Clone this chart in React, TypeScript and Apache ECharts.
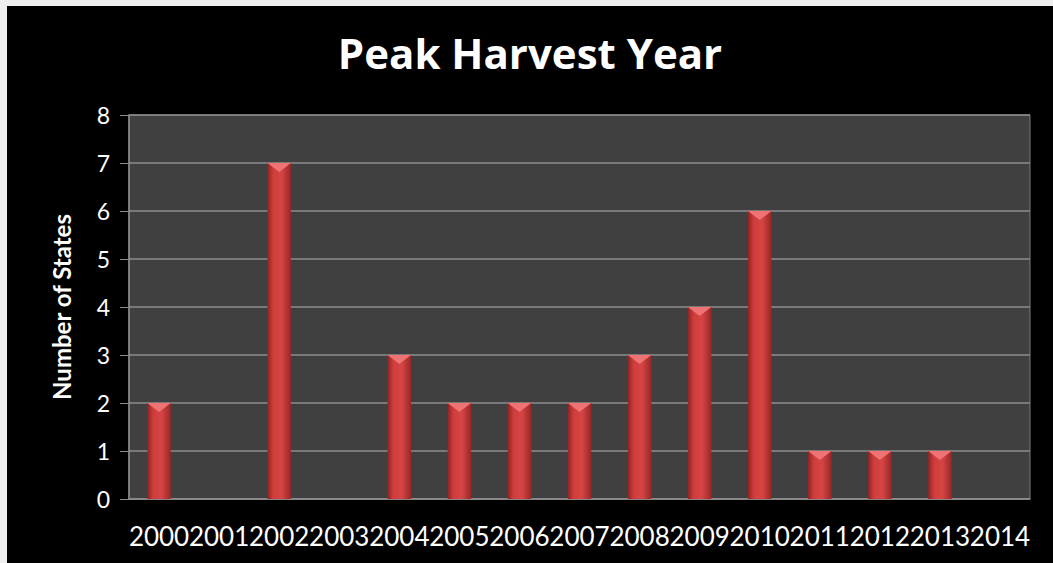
import React, { useEffect, useRef } from "react";
import * as echarts from "echarts";

const years = ["2000", "2001", "2002", "2003", "2004", "2005", "2006", "2007", "2008", "2009", "2010", "2011", "2012", "2013", "2014"];
const states = [2, 0, 7, 0, 3, 2, 2, 2, 3, 4, 6, 1, 1, 1, 0];
const yTicks = [0, 1, 2, 3, 4, 5, 6, 7, 8];

export default function App() {
  const ref = useRef<HTMLDivElement>(null);
  useEffect(() => {
    if (!ref.current) return;
    const chart = echarts.init(ref.current, null, { renderer: "svg" });
    const font = "Lato, 'Open Sans', sans-serif";
    const barGrad = new echarts.graphic.LinearGradient(0, 0, 1, 0, [
      { offset: 0, color: "#8f2424" },
      { offset: 0.25, color: "#cf3d3d" },
      { offset: 0.6, color: "#d84444" },
      { offset: 1, color: "#962828" },
    ]);
    chart.setOption({
      animation: false,
      backgroundColor: "#000000",
      title: {
        text: "Peak Harvest Year",
        left: "center",
        top: 20,
        textStyle: { color: "#ffffff", fontSize: 42, fontWeight: "bold", fontFamily: "'Open Sans', Lato, sans-serif" },
      },
      grid: {
        left: 122,
        right: 23,
        top: 109,
        bottom: 64,
        show: true,
        backgroundColor: "#404040",
        borderColor: "#7a7a7a",
        borderWidth: 1,
      },
      xAxis: {
        type: "category",
        data: years,
        boundaryGap: true,
        axisLine: { show: true, lineStyle: { color: "#8c8c8c", width: 1.5 } },
        axisTick: { show: false },
        axisLabel: { color: "#ffffff", fontSize: 26, fontFamily: font, margin: 24, interval: 0 },
        splitLine: { show: false },
      },
      yAxis: {
        type: "value",
        min: 0,
        max: 8,
        interval: 1,
        name: "Number of States",
        nameLocation: "middle",
        nameGap: 56,
        nameRotate: 90,
        nameTextStyle: { color: "#ffffff", fontSize: 24, fontWeight: "bold", fontFamily: font },
        axisLine: { show: true, lineStyle: { color: "#8c8c8c", width: 1.5 } },
        axisTick: { show: true, length: 9, lineStyle: { color: "#8c8c8c" } },
        axisLabel: {
          color: "#ffffff",
          fontSize: 23,
          fontFamily: font,
          margin: 19,
          formatter: (v: number) => (yTicks.includes(v) ? String(v) : ""),
        },
        splitLine: { show: true, lineStyle: { color: "#8c8c8c", width: 1.5 } },
      },
      series: [
        {
          type: "custom",
          data: states.map((v, i) => [i, v]),
          renderItem: (params: any, api: any) => {
            const xi = api.value(0);
            const yv = api.value(1);
            if (!yv) return { type: "group", children: [] };
            const top = api.coord([xi, yv]);
            const base = api.coord([xi, 0]);
            const w = api.size([1, 0])[0] * 0.39;
            const l = top[0] - w / 2;
            const r = top[0] + w / 2;
            return {
              type: "group",
              children: [
                {
                  type: "rect",
                  shape: { x: l, y: top[1], width: w, height: base[1] - top[1] },
                  style: { fill: barGrad },
                },
                {
                  type: "polygon",
                  shape: { points: [[l, top[1]], [r, top[1]], [top[0], top[1] + 9]] },
                  style: { fill: "#f07272" },
                },
              ],
            };
          },
        },
      ],
    });
    return () => chart.dispose();
  }, []);
  return (
    <div style={{ position: "fixed", left: 0, top: 0, width: 1053, height: 563, background: "#efefef" }}>
      <div ref={ref} style={{ position: "absolute", left: 7, top: 6, width: 1046, height: 557 }} />
    </div>
  );
}
